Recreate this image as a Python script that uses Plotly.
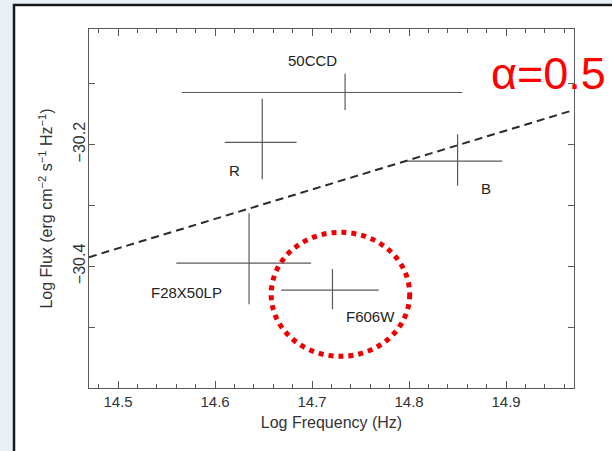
import plotly.graph_objects as go

# ---- data ----
bands = ["50CCD", "R", "B", "F28X50LP", "F606W"]
log_freq = [14.734, 14.6486, 14.850, 14.635, 14.721]
freq_lo = [14.5656, 14.610, 14.798, 14.560, 14.668]
freq_hi = [14.855, 14.684, 14.896, 14.699, 14.7686]
log_flux = [-30.1144, -30.1964, -30.2273, -30.3947, -30.4393]
flux_lo = [-30.143, -30.257, -30.2675, -30.4625, -30.4707]
flux_hi = [-30.0835, -30.1248, -30.183, -30.3127, -30.4046]

label_x = [14.700, 14.6196, 14.879, 14.5704, 14.760]
label_y = [-30.062, -30.242, -30.2724, -30.443, -30.482]

model_x = [14.47, 14.97]
model_y = [-30.385, -30.143]

x_range = [14.47, 14.97]
y_range = [-30.60, -30.01]
x_ticks = [14.5, 14.6, 14.7, 14.8, 14.9]
y_ticks = [-30.6, -30.5, -30.4, -30.3, -30.2, -30.1, -30.0]
y_ticktext = ["", "", "\u221230.4", "", "\u221230.2", "", ""]

circle_x = [14.6578, 14.8006]
circle_y = [-30.5479, -30.3441]

FONT = "Liberation Sans, Arial, Helvetica, sans-serif"
GRAY = "#5a5a5a"

fig = go.Figure()

fig.add_trace(go.Scatter(
    x=model_x, y=model_y, mode="lines",
    line=dict(color="#2b2b2b", width=2, dash="8px,5px"),
    hoverinfo="skip", showlegend=False,
))

fig.add_trace(go.Scatter(
    x=log_freq, y=log_flux, mode="markers",
    marker=dict(size=1, color=GRAY, opacity=0),
    error_x=dict(type="data", symmetric=False,
                 array=[h - c for h, c in zip(freq_hi, log_freq)],
                 arrayminus=[c - l for c, l in zip(log_freq, freq_lo)],
                 width=0, thickness=1.2, color=GRAY),
    error_y=dict(type="data", symmetric=False,
                 array=[h - c for h, c in zip(flux_hi, log_flux)],
                 arrayminus=[c - l for c, l in zip(log_flux, flux_lo)],
                 width=0, thickness=1.2, color=GRAY),
    showlegend=False,
))

for name, lx, ly in zip(bands, label_x, label_y):
    fig.add_annotation(x=lx, y=ly, text=name, showarrow=False,
                       xanchor="center", yanchor="middle",
                       font=dict(family=FONT, size=15, color="#222"))

fig.add_annotation(xref="paper", yref="paper", x=0.948, y=0.876,
                   xanchor="center", yanchor="middle",
                   text="\u03b1=0.5", showarrow=False,
                   font=dict(family=FONT, size=45, color="#ff0000"))

# white panel with black border
fig.add_shape(type="rect", xref="paper", yref="paper",
              x0=-0.1546, x1=1.25, y0=-0.35, y1=1.067,
              fillcolor="white", line=dict(color="#1a1a1a", width=2.5),
              layer="below")

fig.add_shape(type="circle", xref="x", yref="y",
              x0=circle_x[0], x1=circle_x[1], y0=circle_y[0], y1=circle_y[1],
              line=dict(color="#ee0000", width=5, dash="dot"))

axis_common = dict(showline=True, linecolor=GRAY, linewidth=1.3, mirror="ticks",
                   ticks="inside", tickcolor=GRAY, showgrid=False, zeroline=False)

fig.update_xaxes(range=x_range, tickvals=x_ticks, ticklen=7,
                 tickfont=dict(family=FONT, size=15, color="#333"),
                 minor=dict(dtick=0.02, tick0=14.5, ticklen=4, ticks="inside",
                            tickcolor=GRAY, showgrid=False),
                 title=dict(text="Log Frequency (Hz)", standoff=7,
                            font=dict(family=FONT, size=16, color="#333")),
                 **axis_common)
fig.update_yaxes(range=y_range, tickvals=y_ticks, ticktext=y_ticktext,
                 ticklen=6, tickangle=-90, ticklabelstandoff=-4,
                 tickfont=dict(family=FONT, size=16, color="#333"),
                 title=dict(text="Log Flux (erg cm<sup>\u22122</sup> s<sup>\u22121</sup> Hz<sup>\u22121</sup>)",
                            standoff=14,
                            font=dict(family=FONT, size=16, color="#333")),
                 **axis_common)

fig.update_layout(
    width=612, height=451,
    margin=dict(l=89, r=38, t=29, b=63),
    paper_bgcolor="#e8f1f7", plot_bgcolor="white",
    font=dict(family=FONT, color="#333"),
)

fig.write_html("out.html", config={"displayModeBar": False},
               post_script="document.body.style.margin='0';document.body.style.overflow='hidden';")
